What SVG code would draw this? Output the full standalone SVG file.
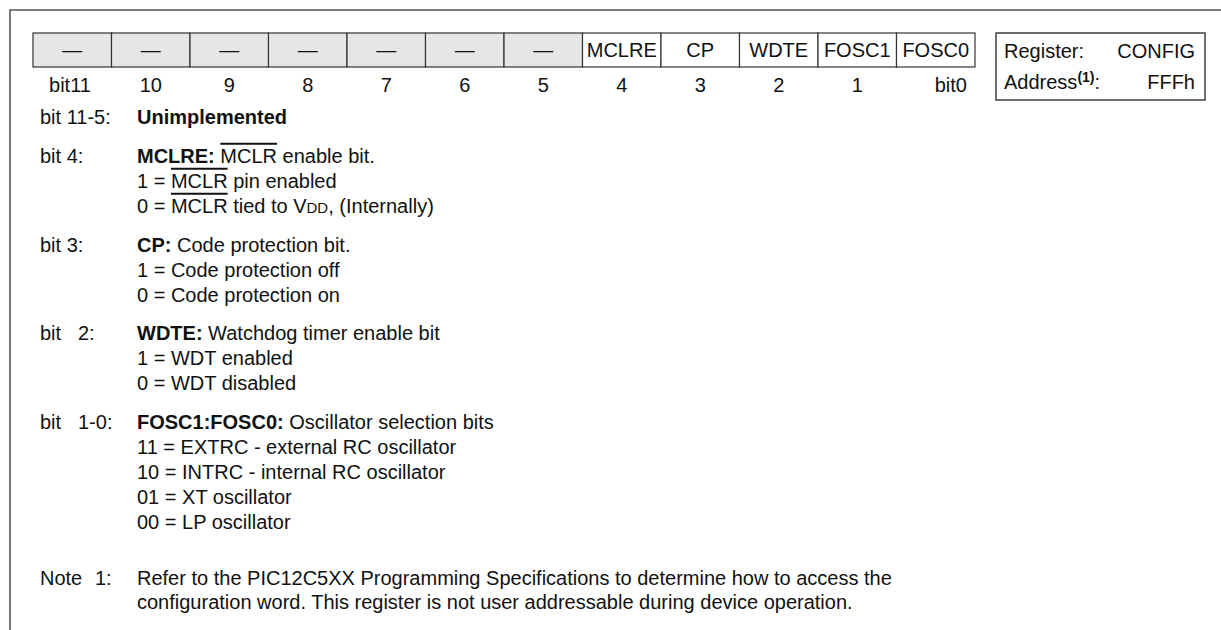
<svg xmlns="http://www.w3.org/2000/svg" width="1221" height="630" viewBox="0 0 1221 630">
<style>
  text { font-family: "Liberation Sans", Arial, sans-serif; fill: #111; }
  .cell { stroke: #333; stroke-width: 1.2; }
  .un { fill: #e6e6e6; }
  .im { fill: #fff; }
  .ct { font-size: 20px; text-anchor: middle; }
  .bn { font-size: 20px; text-anchor: middle; }
  .t { font-size: 20px; }
  .b { font-weight: bold; }
  .ov { text-decoration: overline; }
  .sc { font-size: 15px; }
  .frame { fill: none; stroke: #555; stroke-width: 1.6; }
</style>
<g id="frame">
  <path class="frame" d="M10,630 V10 H1221"/>
</g>
<g id="register-row">
  <rect class="cell un" x="33" y="33" width="78.5" height="34"/>
  <rect class="cell un" x="111.5" y="33" width="78.5" height="34"/>
  <rect class="cell un" x="190" y="33" width="78.5" height="34"/>
  <rect class="cell un" x="268.5" y="33" width="78.5" height="34"/>
  <rect class="cell un" x="347" y="33" width="78.5" height="34"/>
  <rect class="cell un" x="425.5" y="33" width="78.5" height="34"/>
  <rect class="cell un" x="504" y="33" width="78.5" height="34"/>
  <rect class="cell im" x="582.5" y="33" width="78.5" height="34"/>
  <rect class="cell im" x="661" y="33" width="78.5" height="34"/>
  <rect class="cell im" x="739.5" y="33" width="78.5" height="34"/>
  <rect class="cell im" x="818" y="33" width="78.5" height="34"/>
  <rect class="cell im" x="896.5" y="33" width="78.5" height="34"/>
  <text class="ct" x="72.25" y="57">—</text>
  <text class="ct" x="150.75" y="57">—</text>
  <text class="ct" x="229.25" y="57">—</text>
  <text class="ct" x="307.75" y="57">—</text>
  <text class="ct" x="386.25" y="57">—</text>
  <text class="ct" x="464.75" y="57">—</text>
  <text class="ct" x="543.25" y="57">—</text>
  <text class="ct" x="621.75" y="57">MCLRE</text>
  <text class="ct" x="700.25" y="57">CP</text>
  <text class="ct" x="778.75" y="57">WDTE</text>
  <text class="ct" x="857.25" y="57">FOSC1</text>
  <text class="ct" x="935.75" y="57">FOSC0</text>
</g>
<g id="bit-numbers">
  <text class="bn" x="70" y="91.5">bit11</text>
  <text class="bn" x="150.75" y="91.5">10</text>
  <text class="bn" x="229.25" y="91.5">9</text>
  <text class="bn" x="307.75" y="91.5">8</text>
  <text class="bn" x="386.25" y="91.5">7</text>
  <text class="bn" x="464.75" y="91.5">6</text>
  <text class="bn" x="543.25" y="91.5">5</text>
  <text class="bn" x="621.75" y="91.5">4</text>
  <text class="bn" x="700.25" y="91.5">3</text>
  <text class="bn" x="778.75" y="91.5">2</text>
  <text class="bn" x="857.25" y="91.5">1</text>
  <text class="bn" x="967" y="91.5" style="text-anchor:end">bit0</text>
</g>
<g id="register-info">
  <rect x="996" y="33" width="209" height="67" fill="#fff" stroke="#333" stroke-width="1.4"/>
  <text class="t" x="1004" y="57.5">Register:</text>
  <text class="t" x="1195" y="57.5" text-anchor="end">CONFIG</text>
  <text class="t" x="1004" y="89">Address<tspan class="b" font-size="14" dy="-7">(1)</tspan><tspan dy="7">:</tspan></text>
  <text class="t" x="1195" y="89" text-anchor="end">FFFh</text>
</g>
<g id="descriptions">
  <text class="t" x="40" y="124">bit 11-5:</text>
  <text class="t b" x="137" y="124">Unimplemented</text>

  <text class="t" x="40" y="162.75">bit 4:</text>
  <text class="t" x="137" y="162.75"><tspan class="b">MCLRE:</tspan> <tspan class="ov">MCLR</tspan> enable bit.</text>
  <text class="t" x="137" y="187.75">1 = <tspan class="ov">MCLR</tspan> pin enabled</text>
  <text class="t" x="137" y="212.75">0 = <tspan class="ov">MCLR</tspan> tied to V<tspan class="sc">DD</tspan>, (Internally)</text>

  <text class="t" x="40" y="251.5">bit 3:</text>
  <text class="t" x="137" y="251.5"><tspan class="b">CP:</tspan> Code protection bit.</text>
  <text class="t" x="137" y="276.5">1 = Code protection off</text>
  <text class="t" x="137" y="301.5">0 = Code protection on</text>

  <text class="t" x="40" y="340.25">bit <tspan x="78">2:</tspan></text>
  <text class="t" x="137" y="340.25"><tspan class="b">WDTE:</tspan> Watchdog timer enable bit</text>
  <text class="t" x="137" y="365.25">1 = WDT enabled</text>
  <text class="t" x="137" y="390.25">0 = WDT disabled</text>

  <text class="t" x="40" y="429">bit <tspan x="78">1-0:</tspan></text>
  <text class="t" x="137" y="429"><tspan class="b">FOSC1:FOSC0:</tspan> Oscillator selection bits</text>
  <text class="t" x="137" y="454">11 = EXTRC - external RC oscillator</text>
  <text class="t" x="137" y="479">10 = INTRC - internal RC oscillator</text>
  <text class="t" x="137" y="504">01 = XT oscillator</text>
  <text class="t" x="137" y="529">00 = LP oscillator</text>

  <text class="t" x="40" y="585">Note <tspan x="95">1:</tspan></text>
  <text class="t" x="137" y="585">Refer to the PIC12C5XX Programming Specifications to determine how to access the</text>
  <text class="t" x="137" y="609">configuration word. This register is not user addressable during device operation.</text>
</g>
</svg>
